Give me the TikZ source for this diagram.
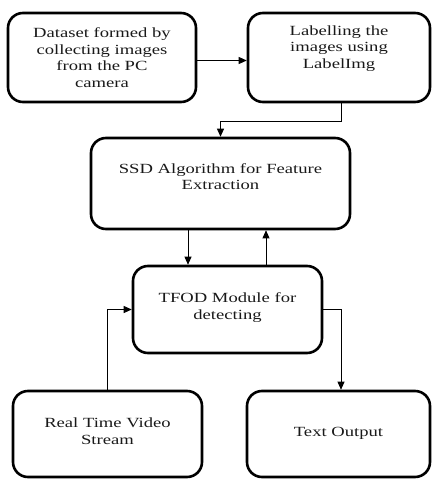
\documentclass[tikz,border=0pt]{standalone}
\usepackage{fontspec}
\setmainfont[FakeStretch=1.33]{Liberation Serif}
\usetikzlibrary{arrows.meta}
\begin{document}
\begin{tikzpicture}[x=1pt,y=1pt,
  box/.style={draw=black, line width=2.6pt, rounded corners=15pt, align=center,
    inner sep=0pt, font=\fontsize{14}{16.5}\selectfont, text=black!90},
  arr/.style={line width=0.8pt, -{Triangle[length=8pt,width=7pt]}}]
\useasboundingbox (0,0) rectangle (431,-479);
\node[box, minimum width=188pt, minimum height=89pt] (b1) at (102,-57.5) {Dataset formed by\\collecting images\\from the PC\\camera};
\node[box, minimum width=182pt, minimum height=89pt] (b2) at (339,-57.5) {Labelling the\\images using\\LabelImg\\[5pt]};
\node[box, minimum width=259pt, minimum height=91pt] (b3) at (220.5,-183.5) {SSD Algorithm for Feature\\Extraction\\[-3pt]};
\node[box, minimum width=189pt, minimum height=87pt] (b4) at (227.5,-309.5) {TFOD Module for\\detecting\\[-10pt]};
\node[box, minimum width=189pt, minimum height=86pt] (b5) at (107.5,-434) {Real Time Video\\Stream\\[-11pt]};
\node[box, minimum width=183pt, minimum height=86pt] (b6) at (338.5,-434) {Text Output\\[-12pt]};
\draw[arr] ([yshift=-3pt]b1.east) -- ([yshift=-3pt]b2.west);
\draw[arr] ([xshift=2pt]b2.south) -- ++(0,-18) -| (b3.north);
\draw[arr] ([xshift=-32.5pt]b3.south) -- ([xshift=-32.5pt]b3.south |- b4.north);
\draw[arr] ([xshift=38.5pt]b4.north) -- ([xshift=38.5pt]b4.north |- b3.south);
\draw[arr] (b5.north) |- (b4.west);
\draw[arr] (b4.east) -| ([xshift=2.5pt]b6.north);
\end{tikzpicture}
\end{document}
